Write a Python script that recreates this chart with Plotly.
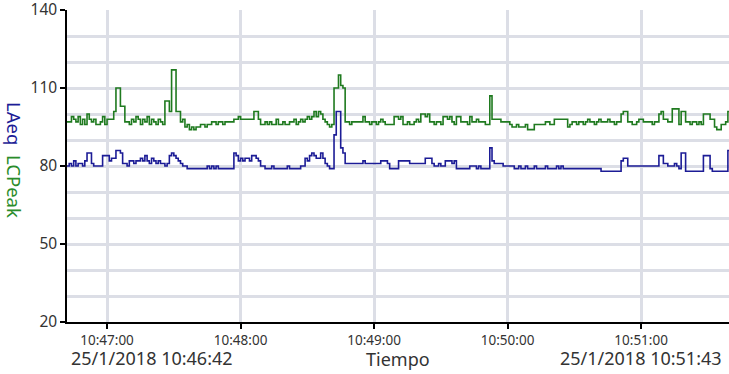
import plotly.graph_objects as go
import pandas as pd

start_time = "2018-01-25 10:46:42"
end_label_left = "25/1/2018 10:46:42"
end_label_right = "25/1/2018 10:51:43"
x_title = "Tiempo"

# LCPeak, 1 value per second from 10:46:42
lcpeak = [
    97, 97, 99, 98, 97, 99, 96, 98, 96, 100,
    98, 97, 98, 96, 96, 97, 99, 96, 98, 98,
    98, 101, 110, 110, 103, 103, 97, 97, 96, 98,
    97, 99, 98, 96, 98, 97, 99, 96, 98, 97,
    96, 98, 97, 96, 105, 105, 101, 117, 117, 101,
    101, 97, 98, 95, 96, 94, 95, 94, 95, 95,
    96, 96, 95, 96, 96, 97, 97, 96, 97, 97,
    96, 97, 97, 97, 97, 98, 98, 99, 98, 98,
    98, 98, 98, 98, 101, 101, 98, 96, 96, 97,
    96, 97, 96, 96, 98, 96, 96, 97, 96, 96,
    97, 97, 98, 96, 97, 98, 97, 98, 99, 98,
    99, 101, 99, 101, 100, 98, 97, 96, 95, 96,
    110, 110, 115, 111, 110, 97, 97, 96, 97, 97,
    97, 97, 97, 99, 97, 97, 96, 97, 97, 96,
    97, 98, 97, 96, 96, 96, 96, 99, 99, 98,
    99, 96, 96, 97, 96, 96, 97, 98, 97, 100,
    100, 99, 100, 97, 97, 96, 97, 97, 96, 99,
    99, 98, 99, 97, 96, 99, 99, 97, 97, 97,
    96, 99, 97, 97, 98, 97, 97, 97, 96, 96,
    107, 98, 98, 98, 98, 97, 97, 97, 97, 96,
    95, 95, 96, 95, 95, 95, 96, 94, 94, 94,
    96, 96, 96, 96, 96, 97, 97, 96, 96, 98,
    98, 98, 98, 98, 98, 95, 96, 97, 97, 96,
    97, 97, 96, 97, 98, 97, 97, 96, 97, 98,
    97, 97, 97, 98, 97, 97, 96, 97, 97, 100,
    101, 101, 97, 97, 96, 96, 97, 98, 98, 97,
    97, 97, 97, 96, 97, 97, 100, 101, 98, 98,
    97, 97, 102, 102, 102, 96, 101, 101, 97, 97,
    96, 97, 97, 96, 97, 96, 100, 100, 100, 98,
    98, 95, 94, 94, 96, 96, 97, 101, 101, 101,
    101, 101,
]

# LAeq, 1 value per second from 10:46:42
laeq = [
    80, 81, 80, 82, 80, 81, 81, 80, 82, 85,
    85, 81, 80, 80, 80, 80, 84, 84, 84, 82,
    83, 83, 86, 86, 85, 81, 81, 80, 82, 82,
    81, 82, 82, 83, 82, 84, 82, 81, 83, 82,
    81, 82, 81, 81, 80, 81, 84, 85, 84, 83,
    82, 81, 80, 80, 79, 79, 79, 79, 79, 79,
    79, 79, 79, 80, 79, 80, 79, 80, 79, 79,
    79, 79, 79, 79, 79, 85, 84, 82, 83, 82,
    83, 83, 82, 84, 84, 83, 82, 80, 80, 79,
    79, 79, 80, 79, 79, 79, 79, 79, 79, 80,
    79, 79, 79, 79, 79, 80, 80, 83, 82, 84,
    85, 84, 83, 83, 85, 83, 81, 80, 79, 79,
    92, 101, 101, 87, 85, 81, 81, 81, 81, 81,
    81, 81, 81, 82, 81, 81, 81, 81, 81, 81,
    81, 82, 82, 82, 81, 79, 79, 79, 79, 82,
    82, 82, 82, 82, 81, 81, 81, 81, 81, 81,
    81, 83, 83, 83, 81, 80, 80, 81, 80, 80,
    82, 82, 82, 81, 82, 79, 79, 79, 79, 79,
    79, 80, 80, 80, 79, 80, 79, 79, 79, 79,
    87, 82, 81, 81, 81, 81, 80, 80, 80, 80,
    80, 79, 79, 80, 79, 79, 80, 79, 79, 79,
    80, 79, 79, 79, 79, 80, 79, 79, 79, 79,
    80, 79, 80, 79, 79, 79, 79, 79, 79, 79,
    79, 79, 79, 79, 79, 79, 79, 79, 79, 79,
    78, 78, 78, 78, 78, 78, 78, 78, 78, 82,
    83, 83, 80, 80, 80, 80, 80, 80, 80, 80,
    80, 80, 80, 80, 80, 80, 84, 84, 81, 81,
    80, 80, 80, 81, 80, 79, 85, 85, 78, 78,
    78, 78, 78, 78, 78, 78, 84, 84, 84, 79,
    78, 78, 78, 78, 78, 78, 78, 86, 86, 86,
    86, 86,
]

n = min(len(lcpeak), len(laeq))
times = pd.date_range(start_time, periods=n, freq="s")

y_ticks = [20, 50, 80, 110, 140]

GREEN = "#1f7a1f"
BLUE = "#1c1c96"
GRID = "#dcdee6"
FONT = "Noto Sans"

fig = go.Figure()
fig.add_trace(go.Scatter(x=times, y=lcpeak[:n], mode="lines", line_shape="hv",
                         line=dict(color=GREEN, width=1.6), name="LCPeak"))
fig.add_trace(go.Scatter(x=times, y=laeq[:n], mode="lines", line_shape="hv",
                         line=dict(color=BLUE, width=1.6), name="LAeq"))

L, R, T, B = 67, 0, 10, 52
W, H = 729, 374
pw, ph = W - L - R, H - T - B

def px(xp):
    return (xp - L) / pw

def py(yp):
    return (H - B - yp) / ph

fig.update_layout(
    width=W, height=H,
    margin=dict(l=L, r=R, t=T, b=B, autoexpand=False),
    paper_bgcolor="white", plot_bgcolor="white",
    showlegend=False,
    font=dict(family=FONT, color="#333333"),
    xaxis=dict(
        type="date",
        range=["2018-01-25 10:46:42", "2018-01-25 10:51:39.5"],
        tickformat="%H:%M:%S",
        tick0="2018-01-25 10:47:00", dtick=60000,
        showgrid=True, gridcolor=GRID, gridwidth=3,
        showline=True, linecolor="black", linewidth=1.5,
        ticks="outside", ticklen=5, tickcolor="black", tickwidth=1.5,
        tickfont=dict(size=13.5, color="#333333"),
        zeroline=False, automargin=False, ticklabeloverflow="allow",
    ),
    yaxis=dict(
        range=[20, 140.02],
        tickvals=y_ticks,
        showgrid=True, gridcolor=GRID, gridwidth=3,
        minor=dict(dtick=10, tick0=20, showgrid=True, gridcolor=GRID, gridwidth=3, ticks=""),
        showline=True, linecolor="black", linewidth=1.5,
        ticks="outside", ticklen=5, tickcolor="black", tickwidth=1.5,
        tickfont=dict(size=15.5, color="#333333"),
        zeroline=False, automargin=False, ticklabeloverflow="allow",
    ),
)

fig.add_annotation(
    text=f"<span style='color:{BLUE}'>LAeq</span>  <span style='color:#2a8c2a'>LCPeak</span>",
    textangle=90, xref="paper", yref="paper", x=px(15), y=py(160),
    showarrow=False, font=dict(size=18.5, family=FONT), xanchor="center", yanchor="middle",
)
fig.add_annotation(text=end_label_left, xref="paper", yref="paper", x=px(152), y=py(358),
                   showarrow=False, font=dict(size=18, color="#333333"), xanchor="center", yanchor="middle")
fig.add_annotation(text=x_title, xref="paper", yref="paper", x=px(398), y=py(359),
                   showarrow=False, font=dict(size=18, color="#333333"), xanchor="center", yanchor="middle")
fig.add_annotation(text=end_label_right, xref="paper", yref="paper", x=px(641), y=py(358),
                   showarrow=False, font=dict(size=18, color="#333333"), xanchor="center", yanchor="middle")

fig.write_html("out.html",
               config={"displayModeBar": False},
               post_script="document.body.style.margin='0px';document.body.style.overflow='hidden';")
